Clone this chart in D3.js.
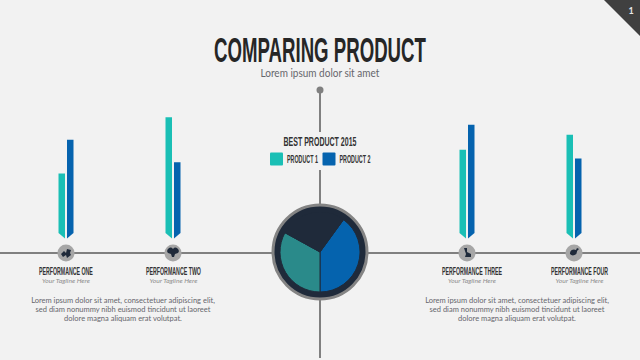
<!DOCTYPE html>
<html>
<head>
<meta charset="utf-8">
<script src="https://cdn.jsdelivr.net/npm/d3@7"></script>
<style>
  html, body { margin: 0; padding: 0; background: #f2f2f2; }
  svg { display: block; }
  .head { font-family: "Liberation Sans Narrow", "Liberation Sans", sans-serif; font-weight: bold; fill: #333; }
  .copy { font-family: Lato, sans-serif; fill: #66666c; }
</style>
</head>
<body>
<div class="canvas"></div>
<script>
// chart data
const categories = ["Performance One", "Performance Two", "Performance Three", "Performance Four"];
const products = ["Product 1", "Product 2"];
const product1 = [52, 97, 71, 83];
const product2 = [79, 61, 91, 64];
const pieNames = ["Product 2", "Product 1", "Other"];
const pieValues = [40, 33, 27];
const bodyLines = [
  "Lorem ipsum dolor sit amet, consectetuer adipiscing elit,",
  "sed diam nonummy nibh euismod tincidunt ut laoreet",
  "dolore magna aliquam erat volutpat."
];

const width = 640;
const height = 360;
const teal = "#1abfb5";
const blue = "#0563ae";
const navy = "#1f2a3a";
const lineGrey = "#808080";

const svg = d3
  .select(".canvas")
  .append("svg")
  .attr("width", width)
  .attr("height", height);

svg.append("rect").attr("width", width).attr("height", height).attr("fill", "#f2f2f2");

// squeeze a text to a given width, centred on x (the original font is condensed)
const fitText = (sel, x, y, w) => {
  sel.attr("text-anchor", "start").each(function(d, i) {
    const natural = this.getComputedTextLength();
    const target = typeof w === "function" ? w(d, i) : w;
    const left = (typeof x === "function" ? x(d, i) : x) - target / 2;
    d3.select(this).attr("transform", `translate(${left},${y}) scale(${target / natural},1)`);
  });
};

// corner page tab
svg.append("path").attr("d", "M604,0L640,0L640,36Z").attr("fill", "#404040");
svg.append("text")
  .attr("x", 631)
  .attr("y", 13.5)
  .attr("text-anchor", "middle")
  .attr("font-family", "Lato, sans-serif")
  .attr("font-weight", "bold")
  .attr("font-size", 9)
  .attr("fill", "#e8e8e8")
  .text("1");

// titles
svg.append("text")
  .attr("class", "head")
  .attr("font-size", 35.5)
  .style("fill", "#262626")
  .text("COMPARING PRODUCT")
  .call(fitText, 320, 61.7, 212);

svg.append("text")
  .attr("class", "copy")
  .attr("font-size", 11)
  .text("Lorem ipsum dolor sit amet")
  .call(fitText, 320, 77, 119);

// timeline lines
const cx = 320;
const axisY = 253;
const timeline = svg.append("g").attr("stroke", lineGrey).attr("stroke-width", 2);
timeline.append("line").attr("x1", 0).attr("x2", width).attr("y1", axisY).attr("y2", axisY);
timeline.append("line").attr("x1", cx).attr("x2", cx).attr("y1", 90).attr("y2", 132);
timeline.append("line").attr("x1", cx).attr("x2", cx).attr("y1", 170).attr("y2", 358);
svg.append("circle").attr("cx", cx).attr("cy", 90).attr("r", 3.5).attr("fill", lineGrey);

// scales: the four groups sit either side of the centre pie
const xGroup = d3.scaleOrdinal().domain(categories).range([66, 173, 467, 574]);
// labels on the right hand side sit a bit off their bars in the original
const xLabel = d3.scaleOrdinal().domain(categories).range([66, 173.5, 472, 579.5]);
const yBar = d3.scaleLinear().domain([0, 100]).range([238.5, 113.5]);
const barW = 6.5;
const barGap = 2;
const notch = 5.5;

const barPath = (d, i, which) => {
  const c = xGroup(categories[i]);
  const x0 = which === 0 ? c - barGap / 2 - barW : c + barGap / 2;
  const x1 = x0 + barW;
  const top = yBar(d);
  const base = yBar(0);
  // the two bars end in a chevron that points at the timeline
  return which === 0
    ? `M${x0},${top}L${x1},${top}L${x1},${base}L${x0},${base - notch}Z`
    : `M${x0},${top}L${x1},${top}L${x1},${base - notch}L${x0},${base}Z`;
};

svg.append("g").selectAll("path").data(product1).join("path")
  .attr("d", (d, i) => barPath(d, i, 0))
  .attr("fill", teal);

svg.append("g").selectAll("path").data(product2).join("path")
  .attr("d", (d, i) => barPath(d, i, 1))
  .attr("fill", blue);

// icon badges
const icons = [
  "M-5,1L-2,-2L0,0L1,-4L5,-3L4,0L5,2L1,5L0,2L-3,4Z",
  "M-5,0A3,3 0 0 1 0,-4A3,3 0 0 1 5,0L2,1L1,4L-1,4L-2,1Z",
  "M-3,-5L0,-5L0,-1L4,1L4,4L-2,4L-1,1Z",
  "M-4,1A4,4 0 0 1 2,-3L3,-5L5,-4L3,-2A4,4 0 0 1 -4,1Z"
];
const badges = svg.append("g").selectAll("g").data(categories).join("g")
  .attr("transform", d => `translate(${xGroup(d)},${axisY})`);
badges.append("circle").attr("r", 8.5).attr("fill", "#a6a6a6");
badges.append("path").attr("d", (d, i) => icons[i]).attr("fill", navy);

// group labels
svg.append("g").selectAll("text").data(categories).join("text")
  .attr("class", "head")
  .attr("font-size", 10)
  .text(d => d.toUpperCase())
  .call(fitText, d => xLabel(d), 274.5, (d, i) => [54, 55, 60, 57][i]);

svg.append("g").selectAll("text").data(categories).join("text")
  .attr("font-family", "Lato, sans-serif")
  .attr("font-style", "italic")
  .attr("font-size", 6.5)
  .attr("fill", "#8c8c8c")
  .text("Your Tagline Here")
  .call(fitText, d => xLabel(d), 283, 48);

// body copy, left and right
[123, 517].forEach(x => {
  svg.append("g").selectAll("text").data(bodyLines).join("text")
    .attr("class", "copy")
    .attr("x", x)
    .attr("y", (d, i) => 302.5 + i * 9)
    .attr("text-anchor", "middle")
    .attr("font-size", 7.5)
    .text(d => d);
});

// legend
svg.append("text")
  .attr("class", "head")
  .attr("font-size", 12)
  .text("BEST PRODUCT 2015")
  .call(fitText, cx, 146, 73);

const legendX = d3.scaleOrdinal().domain(products).range([270, 322.5]);
const legendColor = d3.scaleOrdinal().domain(products).range([teal, blue]);
const legend = svg.append("g").selectAll("g").data(products).join("g")
  .attr("transform", d => `translate(${legendX(d)},152.5)`);
legend.append("rect").attr("width", 13).attr("height", 13).attr("rx", 1).attr("fill", d => legendColor(d));
legend.append("text")
  .attr("class", "head")
  .attr("font-size", 10)
  .text(d => d.toUpperCase())
  .call(fitText, 32.5, 10, 31);

// centre pie
const pieY = 252;
const pieG = svg.append("g").attr("transform", `translate(${cx},${pieY})`);
pieG.append("circle").attr("r", 47).attr("fill", navy).attr("stroke", "#848484").attr("stroke-width", 3);

const startAngle = (36 * Math.PI) / 180;
const pie = d3.pie().sort(null).startAngle(startAngle).endAngle(startAngle + 2 * Math.PI);
const arc = d3.arc().innerRadius(0).outerRadius(40);
const pieColor = d3.scaleOrdinal().domain(pieNames).range([blue, "#2a8a8a", navy]);

pieG.selectAll("path").data(pie(pieValues)).join("path")
  .attr("d", arc)
  .attr("fill", (d, i) => pieColor(pieNames[i]))
  .attr("stroke", navy)
  .attr("stroke-width", 1);
</script>
</body>
</html>
